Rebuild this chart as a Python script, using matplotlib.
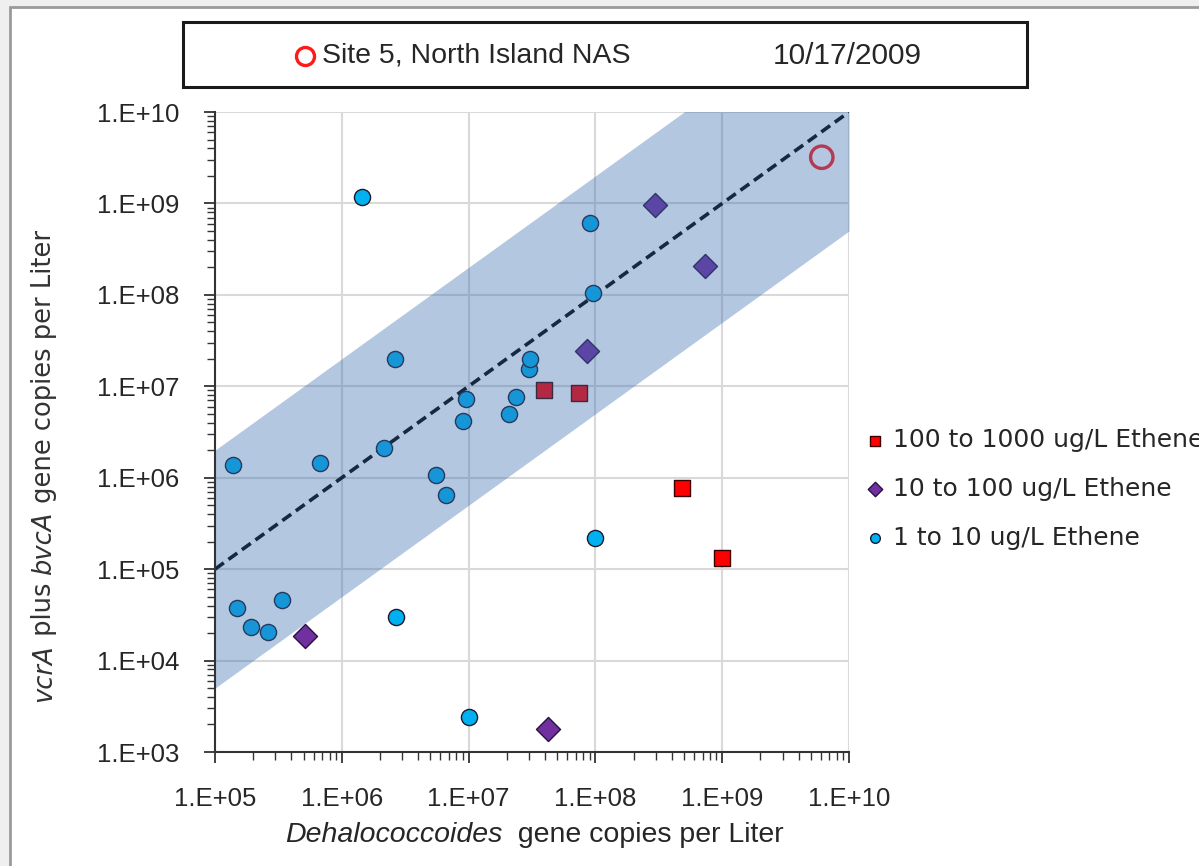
import numpy as np
import matplotlib
matplotlib.use('Agg')
import matplotlib.pyplot as plt
from matplotlib.patches import Rectangle
from matplotlib.lines import Line2D
from matplotlib.ticker import FuncFormatter, NullFormatter, LogLocator

# values (gene copies per liter)
low_x = [1.39e5, 1.49e5, 1.92e5, 2.62e5, 3.37e5, 6.7e5, 1.44e6, 2.15e6, 2.63e6, 2.67e6,
         5.5e6, 6.6e6, 9.0e6, 9.5e6, 1.0e7, 2.1e7, 2.36e7, 3.0e7, 3.05e7, 9.1e7, 9.6e7, 9.9e7]
low_y = [1.37e6, 3.8e4, 2.3e4, 2.05e4, 4.6e4, 1.45e6, 1.17e9, 2.1e6, 2.0e7, 3.0e4,
         1.07e6, 6.5e5, 4.2e6, 7.2e6, 2.4e3, 5.0e6, 7.6e6, 1.54e7, 2.0e7, 6.1e8, 1.05e8, 2.2e5]
mid_x = [5.1e5, 4.2e7, 8.6e7, 2.95e8, 7.3e8]
mid_y = [1.85e4, 1.77e3, 2.43e7, 9.6e8, 2.07e8]
high_x = [3.9e7, 7.4e7, 4.8e8, 1.0e9]
high_y = [9.1e6, 8.4e6, 7.7e5, 1.32e5]
site_x = [6.1e9]
site_y = [3.2e9]

fit_x = np.array([1e5, 1e10])
fit_y = np.array([1e5, 1e10])
band_factor = 20

labels = ['100 to 1000 ug/L Ethene', '10 to 100 ug/L Ethene', '1 to 10 ug/L Ethene']
site_label = 'Site 5, North Island NAS'
date_label = '10/17/2009'

tfont = 'Liberation Sans'
lfont = 'DejaVu Sans'
ink = '#262626'
W, H = 1199, 866

fig = plt.figure(figsize=(W / 100, H / 100), dpi=100, facecolor='#efefef')
# chart area frame
fig.patches.append(Rectangle((10 / W, -0.1), 1.2, 1.1 - 7 / H, transform=fig.transFigure,
                             facecolor='white', edgecolor='#9a9a9a', lw=2, zorder=-5))

ax = fig.add_axes([215 / W, 1 - 752 / H, (849 - 215) / W, (752 - 112) / H])
ax.set_xscale('log')
ax.set_yscale('log')
ax.set_xlim(1e5, 1e10)
ax.set_ylim(1e3, 1e10)

ax.plot(fit_x, fit_y, ls=(0, (3, 1.6)), color='black', lw=2.6, zorder=3)
ax.scatter(low_x, low_y, s=135, marker='o', color='#00b0f0', edgecolor='#1a1a2e', lw=1.0,
           zorder=4, label=labels[2])
ax.scatter(mid_x, mid_y, s=150, marker='D', color='#7030a0', edgecolor='#2a1040', lw=1.0,
           zorder=4, label=labels[1])
ax.scatter(high_x, high_y, s=140, marker='s', color='#ff0000', edgecolor='#3a0000', lw=1.0,
           zorder=4, label=labels[0])
ax.scatter(site_x, site_y, s=260, marker='o', facecolor='none', edgecolor='#ff1a1a', lw=2.4, zorder=4)

# envelope around the 1:1 line, drawn on top like the original
ax.fill_between(fit_x, fit_y / band_factor, fit_y * band_factor, color='#3a6cb0', alpha=0.38,
                lw=0, zorder=5)

ax.grid(True, which='major', color='#d9d9d9', lw=1.5, zorder=0)
ax.set_axisbelow(True)
for s in ['top', 'right']:
    ax.spines[s].set_visible(False)
for s in ['left', 'bottom']:
    ax.spines[s].set_color('#333333')
    ax.spines[s].set_linewidth(1.5)
    ax.spines[s].set_zorder(6)

fmt = FuncFormatter(lambda v, _: '1.E+%02d' % round(np.log10(v)))
for axis in (ax.xaxis, ax.yaxis):
    axis.set_major_locator(LogLocator(base=10, numticks=20))
    axis.set_minor_locator(LogLocator(base=10, subs=np.arange(2, 10), numticks=20))
    axis.set_major_formatter(fmt)
    axis.set_minor_formatter(NullFormatter())
ax.tick_params(which='major', direction='out', length=8, width=1.3, color='#333333')
ax.tick_params(which='minor', direction='out', length=6, width=1.0, color='#333333')
ax.tick_params(axis='y', which='major', pad=18)
ax.tick_params(axis='x', which='major', pad=17)
for t in ax.get_xticklabels() + ax.get_yticklabels():
    t.set_fontfamily(tfont)
    t.set_fontsize(18.5)
    t.set_color(ink)

# x label with italic genus name
t1 = fig.text(285 / W, 1 - 835 / H, 'Dehalococcoides', family=tfont, style='italic',
              fontsize=20.5, color=ink, va='center', ha='left')
ax.annotate('  gene copies per Liter', xy=(1, 0), xycoords=t1, va='bottom', ha='left',
            family=tfont, fontsize=20.5, color=ink)

# y label, rotated, with italic gene names
ysize = 18.5
y1 = fig.text(44 / W, 1 - 702 / H, 'vcrA', family=lfont, style='italic', fontsize=ysize,
              rotation=90, color='#333333', ha='center', va='bottom')
y2 = ax.annotate(' plus ', xy=(0.5, 1), xycoords=y1, rotation=90, ha='center', va='bottom',
                 family=lfont, fontsize=ysize, color='#333333')
y3 = ax.annotate('bvcA', xy=(0.5, 1), xycoords=y2, rotation=90, ha='center', va='bottom',
                 family=lfont, style='italic', fontsize=ysize, color='#333333')
ax.annotate(' gene copies per Liter', xy=(0.5, 1), xycoords=y3, rotation=90, ha='center',
            va='bottom', family=lfont, fontsize=ysize, color='#333333')

# title box
fig.patches.append(Rectangle((183 / W, 1 - 87 / H), (1027 - 183) / W, 65 / H,
                             transform=fig.transFigure, facecolor='white',
                             edgecolor='#1a1a1a', lw=2.2, zorder=2))
fig.add_artist(Line2D([305 / W], [1 - 56 / H], transform=fig.transFigure, marker='o',
                      ms=13, mfc='none', mec='#ff1a1a', mew=2.4, zorder=10))
fig.text(322 / W, 1 - 56 / H, site_label, family=tfont, fontsize=20.5, color=ink,
         va='center', ha='left')
fig.text(773 / W, 1 - 56 / H, date_label, family=tfont, fontsize=21.5, color=ink,
         va='center', ha='left')

h, l = ax.get_legend_handles_labels()
order = [2, 1, 0]
leg = fig.legend([h[i] for i in order], [l[i] for i in order], loc='center left',
                 bbox_to_anchor=(852 / W, 1 - 489 / H), frameon=False,
                 prop={'family': lfont, 'size': 18}, markerscale=0.6,
                 handletextpad=0.35, labelspacing=0.98, borderpad=0, handlelength=0.8)
for txt in leg.get_texts():
    txt.set_color(ink)

fig.savefig('out.png', dpi=100, facecolor=fig.get_facecolor())
